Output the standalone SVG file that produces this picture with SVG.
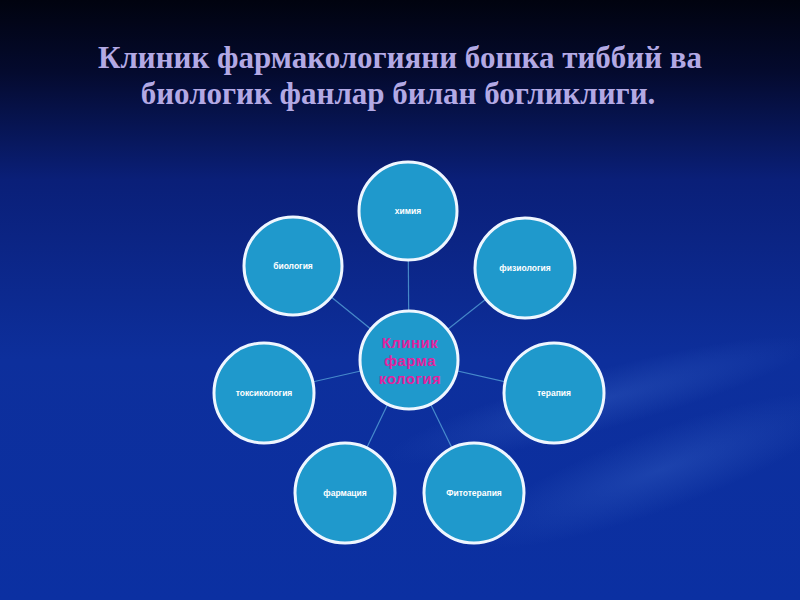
<svg xmlns="http://www.w3.org/2000/svg" width="800" height="600" viewBox="0 0 800 600">
<defs>
<linearGradient id="bg" x1="0" y1="0" x2="0" y2="1">
<stop offset="0" stop-color="#01030f"/>
<stop offset="0.12" stop-color="#040a2e"/>
<stop offset="0.3" stop-color="#0a1f78"/>
<stop offset="0.6" stop-color="#0d2f9c"/>
<stop offset="1" stop-color="#0b30a2"/>
</linearGradient>
<radialGradient id="sw" cx="0.5" cy="0.5" r="0.5">
<stop offset="0" stop-color="#3a66c8" stop-opacity="0.35"/>
<stop offset="1" stop-color="#3a66c8" stop-opacity="0"/>
</radialGradient>
<style>
.n{fill:#1f99cc;stroke:#eef6ff;stroke-width:3}
.t{font-family:"Liberation Sans",Arial,sans-serif;font-size:8.5px;font-weight:bold;fill:#ffffff;text-anchor:middle}
.c{font-family:"Liberation Sans",Arial,sans-serif;font-size:15px;font-weight:bold;fill:#e0239e;text-anchor:middle;letter-spacing:0.5px}
.e{stroke:#5fb0e0;stroke-width:1.2;stroke-opacity:0.7;fill:none}
.h{font-family:"Liberation Serif","Times New Roman",serif;font-size:31px;font-weight:bold;fill:#b3a9e4;text-anchor:middle}
</style>
</defs>
<rect width="800" height="600" fill="url(#bg)"/>
<ellipse cx="660" cy="470" rx="200" ry="40" fill="url(#sw)" transform="rotate(-20 660 470)"/>
<ellipse cx="600" cy="400" rx="220" ry="30" fill="url(#sw)" transform="rotate(-15 600 400)"/>
<text class="h" x="400" y="68">Клиник фармакологияни бошка тиббий ва</text>
<text class="h" x="398" y="104">биологик фанлар билан богликлиги.</text>
<g id="connectors">
<line class="e" x1="409" y1="360" x2="408" y2="211"/>
<line class="e" x1="409" y1="360" x2="525" y2="268"/>
<line class="e" x1="409" y1="360" x2="293" y2="266"/>
<line class="e" x1="409" y1="360" x2="264" y2="393"/>
<line class="e" x1="409" y1="360" x2="554" y2="393"/>
<line class="e" x1="409" y1="360" x2="345" y2="493"/>
<line class="e" x1="409" y1="360" x2="474" y2="493"/>
</g>
<g id="node-ximiya"><circle class="n" cx="408" cy="211" r="49"/><text class="t" x="408" y="214">химия</text></g>
<g id="node-fiziologiya"><circle class="n" cx="525" cy="268" r="50"/><text class="t" x="525" y="271">физиология</text></g>
<g id="node-biologiya"><circle class="n" cx="293" cy="266" r="49"/><text class="t" x="293" y="269">биология</text></g>
<g id="node-toksikologiya"><circle class="n" cx="264" cy="393" r="50"/><text class="t" x="264" y="396">токсикология</text></g>
<g id="node-terapiya"><circle class="n" cx="554" cy="393" r="50"/><text class="t" x="554" y="396">терапия</text></g>
<g id="node-farmatsiya"><circle class="n" cx="345" cy="493" r="50"/><text class="t" x="345" y="496">фармация</text></g>
<g id="node-fitoterapiya"><circle class="n" cx="474" cy="493" r="50"/><text class="t" x="474" y="496">Фитотерапия</text></g>
<g id="node-center"><circle class="n" cx="409" cy="360" r="49"/>
<text class="c" x="410" y="348">Клиник</text>
<text class="c" x="410" y="366">фарма</text>
<text class="c" x="410" y="384">кология</text></g>
</svg>
